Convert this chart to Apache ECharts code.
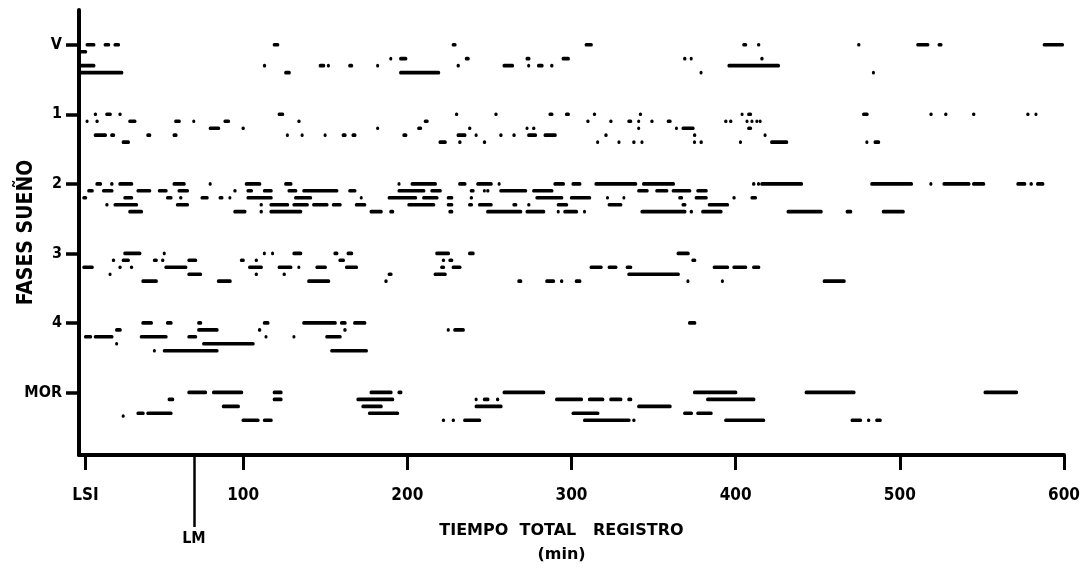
<!DOCTYPE html>
<html>
<head>
<meta charset="utf-8">
<title>Fases sueño</title>
<script src="https://cdn.jsdelivr.net/npm/echarts@6.0.0/dist/echarts.min.js"></script>
<style>
    html, body {margin: 0; padding: 0; background: #fff;}
    #main {width: 1085px; height: 573px;}
</style>
</head>
<body>
<div id="main"></div>
<script>
// fases (valor en eje y) y etiquetas
let stageValues = [6, 5, 4, 3, 2, 1],
    stageLabels = ['V', '1', '2', '3', '4', 'MOR'],
    timeTicks = [4, 100, 200, 300, 400, 500, 600],
    timeLabels = ['LSI', '100', '200', '300', '400', '500', '600'],
    lmTime = 70;

// segmentos [inicio(min), fin(min), fila bajo la fase]
let segV = [
    [4,10,0],[15,19,0],[21,25,0],[118,122,0],[227,230,0],[308,313,0],[404,407,0],[413,415,0],[474,476,0],[510,518,0],[523,526,0],[587,600,0],
    [0,5,1],
    [189,190,2],[195,200,2],[235,238,2],[272,275,2],[294,299,2],[368,370,2],[372,373,2],[415,417,2],
    [0,10,3],[112,114,3],[146,150,3],[151,152,3],[164,167,3],[181,182,3],[230,232,3],[258,265,3],[273,274,3],[279,283,3],[287,289,3],[395,427,3],
    [0,27,4],[125,129,4],[195,220,4],[378,379,4],[483,484,4]
];
let seg1 = [
    [9,11,0],[16,20,0],[24,26,0],[121,125,0],[229,231,0],[253,255,0],[286,289,0],[296,299,0],[313,315,0],[341,343,0],[403,404,0],[407,410,0],[477,481,0],[518,520,0],[527,529,0],[544,546,0],[577,579,0],[582,583,0],
    [4,5,1],[10,12,1],[30,35,1],[58,62,1],[69,70,1],[88,92,1],[133,135,1],[210,213,1],[309,311,1],[323,325,1],[334,337,1],[340,341,1],[348,350,1],[358,361,1],[393,395,1],[396,398,1],[406,407,1],[409,410,1],[412,413,1],[414,415,1],
    [79,86,2],[99,101,2],[181,182,2],[206,209,2],[237,239,2],[272,273,2],[276,278,2],[340,341,2],[363,364,2],[367,375,2],[407,410,2],
    [9,17,3],[19,22,3],[41,44,3],[57,60,3],[126,127,3],[135,136,3],[149,150,3],[160,163,3],[166,169,3],[197,200,3],[230,236,3],[241,242,3],[256,258,3],[264,266,3],[273,279,3],[283,291,3],[320,322,3],[374,376,3],[417,418,3],
    [26,31,4],[219,224,4],[231,233,4],[246,248,4],[315,316,4],[328,329,4],[337,339,4],[342,343,4],[374,375,4],[378,380,4],[402,403,4],[421,432,4],[479,480,4],[484,488,4]
];
let seg2 = [
    [10,14,0],[19,21,0],[24,33,0],[57,65,0],[79,80,0],[101,111,0],[125,130,0],[194,195,0],[202,218,0],[231,236,0],[242,252,0],[255,256,0],[289,296,0],[300,306,0],[314,340,0],[343,363,0],[410,412,0],[413,414,0],[415,441,0],[482,508,0],[518,519,0],[526,543,0],[544,552,0],[571,577,0],[579,581,0],[583,588,0],
    [5,9,1],[14,21,1],[35,44,1],[48,54,1],[60,67,1],[94,96,1],[102,106,1],[112,118,1],[127,133,1],[136,158,1],[164,169,1],[194,211,1],[214,221,1],[238,241,1],[246,247,1],[248,250,1],[256,273,1],[276,289,1],[340,347,1],[351,359,1],[361,373,1],[376,383,1],
    [2,5,2],[27,33,2],[53,57,2],[61,63,2],[74,79,2],[85,88,2],[91,92,2],[102,118,2],[131,142,2],[171,172,2],[188,206,2],[209,219,2],[224,228,2],[238,240,2],[278,295,2],[299,312,2],[321,322,2],[331,332,2],[365,368,2],[375,383,2],[398,400,2],[409,413,2],
    [16,18,3],[21,36,3],[59,67,3],[110,112,3],[116,128,3],[130,140,3],[142,152,3],[154,160,3],[168,175,3],[200,217,3],[224,228,3],[237,240,3],[243,252,3],[264,267,3],[273,275,3],[291,298,3],[322,331,3],[367,370,3],[383,396,3],
    [30,39,4],[94,102,4],[110,112,4],[116,136,4],[177,185,4],[189,192,4],[225,228,4],[248,270,4],[272,284,4],[291,292,4],[295,304,4],[307,308,4],[342,370,4],[372,374,4],[379,392,4],[431,453,4],[467,471,4],[489,503,4]
];
let seg3 = [
    [27,38,0],[51,52,0],[112,113,0],[117,118,0],[130,136,0],[155,158,0],[163,167,0],[217,226,0],[237,241,0],[364,372,0],
    [20,22,1],[26,31,1],[45,48,1],[50,52,1],[66,72,1],[98,101,1],[107,109,1],[158,162,1],[221,223,1],[225,228,1],[373,376,1],
    [2,9,2],[24,26,2],[31,33,2],[52,66,2],[103,112,2],[121,130,2],[133,134,2],[144,151,2],[162,170,2],[220,223,2],[227,233,2],[311,319,2],[322,328,2],[333,337,2],[386,396,2],[398,407,2],[410,415,2],
    [18,19,3],[66,75,3],[107,109,3],[124,126,3],[188,191,3],[216,224,3],[334,366,3],
    [38,48,4],[84,93,4],[139,153,4],[186,188,4],[267,270,4],[284,290,4],[293,295,4],[302,306,4],[370,371,4],[391,392,4],[453,467,4]
];
let seg4 = [
    [38,45,0],[53,57,0],[72,75,0],[112,116,0],[136,157,0],[159,163,0],[167,175,0],[371,376,0],
    [22,26,1],[72,85,1],[109,111,1],[161,163,1],[224,225,1],[228,235,1],
    [3,8,2],[9,21,2],[37,54,2],[66,72,2],[113,114,2],[130,131,2],[150,160,2],
    [22,23,3],[75,107,3],
    [45,46,4],[51,85,4],[153,176,4]
];
let segMOR = [
    [66,78,0],[81,100,0],[118,124,0],[177,191,0],[194,197,0],[258,284,0],[374,401,0],[442,473,0],[551,572,0],
    [54,58,1],[118,124,1],[169,192,1],[241,242,1],[246,250,1],[254,256,1],[290,307,1],[310,320,1],[323,331,1],[334,337,1],[382,412,1],
    [87,98,2],[172,185,2],[241,258,2],[340,361,2],
    [26,27,3.4],[35,40,3],[41,57,3],[176,195,3],[300,317,3],[368,374,3],[376,386,3],
    [99,110,4],[112,118,4],[221,223,4],[227,229,4],[234,245,4],[307,336,4],[337,339,4],[393,418,4],[470,477,4],[480,482,4],[485,489,4]
];

let fontCond = '"DejaVu Sans Condensed", "DejaVu Sans", sans-serif',
    fontWide = '"DejaVu Sans", sans-serif';

function buildData() {
    let all = [segV, seg1, seg2, seg3, seg4, segMOR];
    let data = [];
    all.forEach(function (list, i) {
        list.forEach(function (s) {
            // cada fila baja 0.1 unidades (unos 7 px)
            data.push([s[0], s[1], stageValues[i] - s[2] * 0.1]);
        });
    });
    return data;
}

function renderSeg(params, api) {
    let p1 = api.coord([api.value(0), api.value(2)]);
    let p2 = api.coord([api.value(1), api.value(2)]);
    let w = Math.max(p2[0] - p1[0], 3);
    return {
        type: 'rect',
        shape: {x: p1[0], y: p1[1] - 1.8, width: w, height: 3.6, r: 1.5},
        style: {fill: '#000'}
    };
}

let myChart = echarts.init(document.getElementById('main'));

let option = {
    backgroundColor: '#fff',
    animation: false,
    grid: {left: 79, right: 21, top: 10, bottom: 118, outerBoundsMode: 'none', containLabel: false},
    xAxis: [{
        type: 'value',
        min: 0,
        max: 600,
        splitLine: {show: false},
        axisLine: {lineStyle: {color: '#000', width: 4}},
        axisTick: {customValues: timeTicks, length: 15, lineStyle: {color: '#000', width: 3}},
        axisLabel: {
            customValues: timeTicks,
            margin: 32,
            color: '#000',
            fontSize: 17,
            fontWeight: 'bold',
            fontFamily: fontCond,
            formatter: function (v) {
                return timeLabels[timeTicks.indexOf(v)];
            }
        },
        name: 'TIEMPO  TOTAL   REGISTRO\n(min)',
        nameLocation: 'middle',
        nameGap: 64,
        nameMoveOverlap: false,
        nameTextStyle: {
            color: '#000',
            fontSize: 16,
            fontWeight: 'bold',
            fontFamily: fontWide,
            lineHeight: 24,
            padding: [0, 20, 0, 0]
        }
    }, {
        // linea LM
        type: 'value',
        min: 0,
        max: 600,
        position: 'bottom',
        splitLine: {show: false},
        axisLine: {show: false},
        axisTick: {customValues: [lmTime], length: 72, lineStyle: {color: '#000', width: 2.5}},
        axisLabel: {
            customValues: [lmTime],
            margin: 76,
            color: '#000',
            fontSize: 16,
            fontWeight: 'bold',
            fontFamily: fontCond,
            formatter: function () {
                return 'LM';
            }
        }
    }],
    yAxis: {
        type: 'value',
        min: 0.1,
        max: 6.5,
        splitLine: {show: false},
        axisLine: {show: true, lineStyle: {color: '#000', width: 4}},
        axisTick: {show: true, customValues: stageValues, length: 13, lineStyle: {color: '#000', width: 3.5}},
        axisLabel: {
            customValues: stageValues,
            margin: 17,
            color: '#000',
            fontSize: 16,
            fontWeight: 'bold',
            fontFamily: fontCond,
            formatter: function (v) {
                return stageLabels[stageValues.indexOf(v)];
            }
        },
        name: 'FASES SUEÑO',
        nameLocation: 'middle',
        nameGap: 42,
        nameMoveOverlap: false,
        nameRotate: 90,
        nameTextStyle: {
            color: '#000',
            fontSize: 21,
            fontWeight: 'bold',
            fontFamily: fontCond
        }
    },
    series: [{
        type: 'custom',
        renderItem: renderSeg,
        encode: {x: [0, 1], y: 2},
        data: buildData(),
        clip: true
    }]
};

myChart.setOption(option);
</script>
</body>
</html>
